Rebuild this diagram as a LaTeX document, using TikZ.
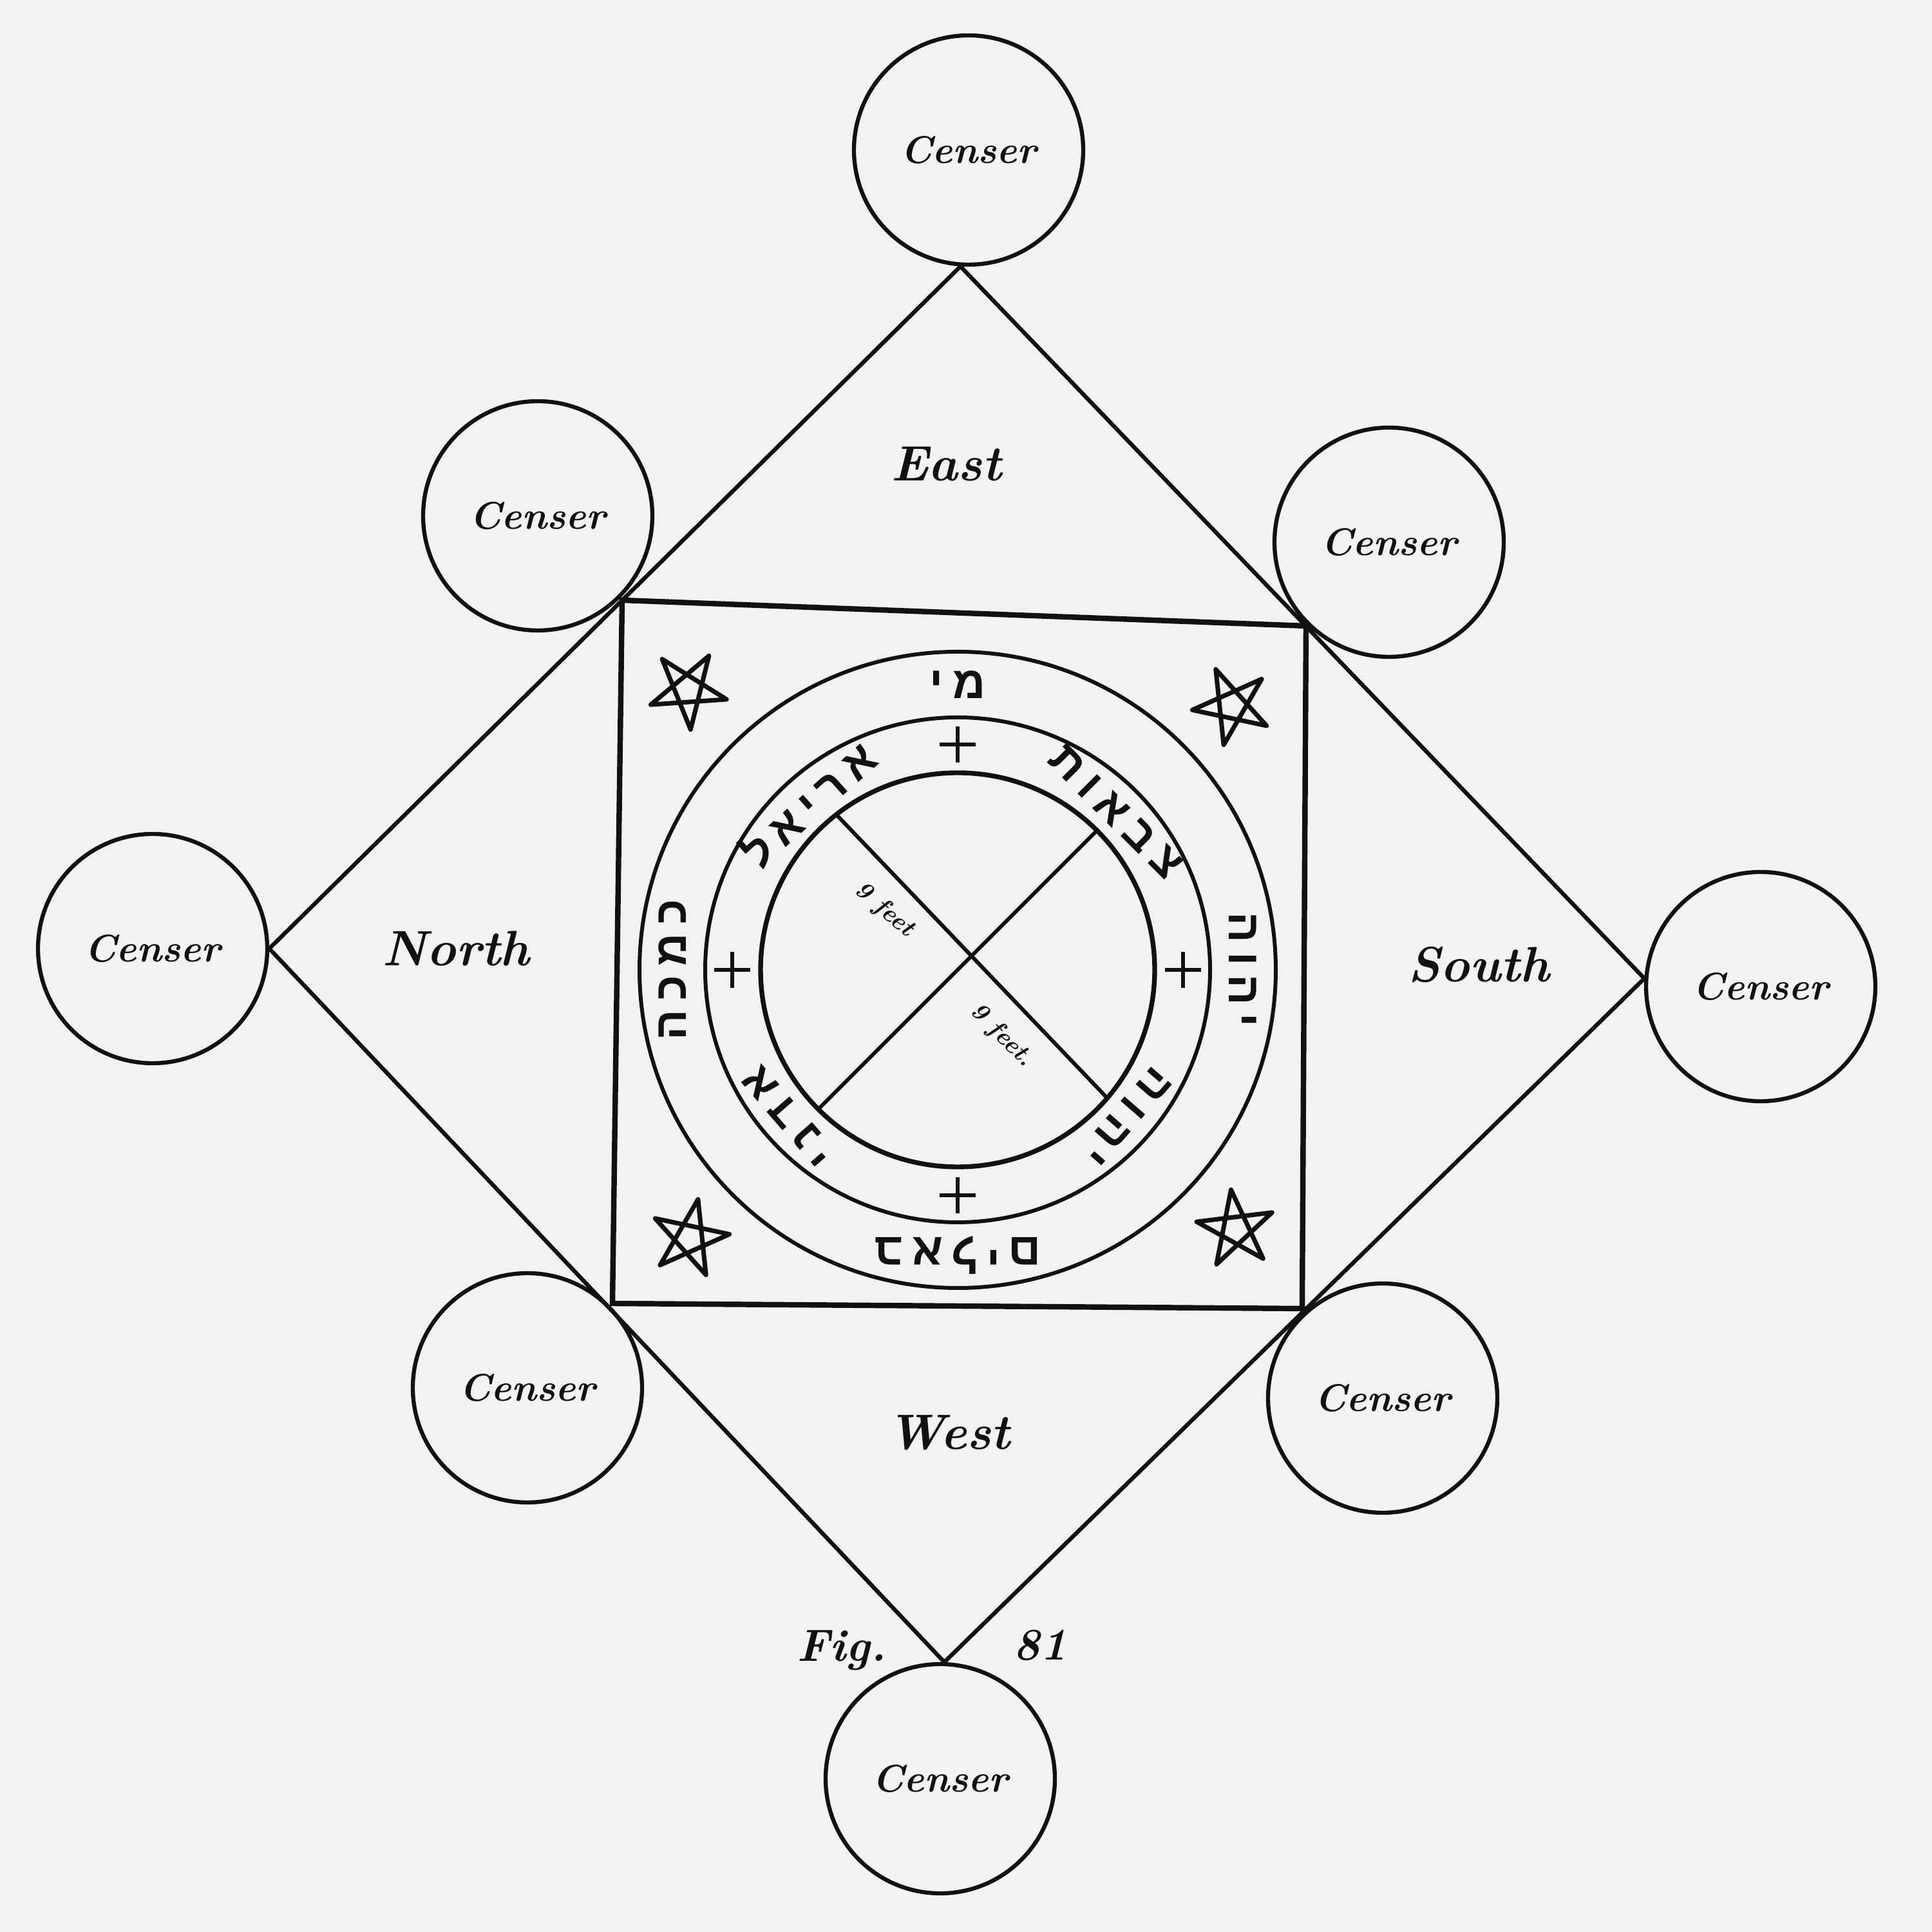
\documentclass[tikz,border=0pt]{standalone}
\usepackage{fontspec}
\usepackage{tikz}
\usetikzlibrary{calc,positioning}
\newfontfamily\hebfont[Script=Hebrew,LetterSpace=20]{Liberation Sans}
\TeXXeTstate=1
\definecolor{paper}{HTML}{F2F2F2}
\definecolor{ink}{HTML}{111111}

\begin{document}
\begin{tikzpicture}[
  censer/.style={circle,draw=ink,line width=1.8pt,minimum size=3.56cm,inner sep=0pt,text=ink,font=\fontsize{17}{20}\selectfont\bfseries\itshape},
  edge/.style={draw=ink,line width=1.8pt},
  frame/.style={draw=ink,line width=2.4pt,line join=miter},
  ring/.style={draw=ink,line width=1.7pt},
  pent/.style={draw=ink,line width=2pt,line join=round},
  quarter/.style={font=\fontsize{22}{26}\selectfont\bfseries\itshape,text=ink},
  heb/.style={font=\fontsize{20}{24}\hebfont\bfseries,text=ink,inner sep=0pt},
  feet/.style={font=\fontsize{11}{13}\selectfont\bfseries\itshape,text=ink,inner sep=0pt},
]
\fill[paper] (0,0) rectangle (30,30);

% CENSERS
\node[censer] (cN) at (15.04,27.67) {Censer};
\node[censer] (cNW) at (8.35,21.99) {Censer};
\node[censer] (cNE) at (21.57,21.58) {Censer};
\node[censer] (cW) at (2.37,15.27) {Censer};
\node[censer] (cE) at (27.34,14.68) {Censer};
\node[censer] (cSW) at (8.19,8.45) {Censer};
\node[censer] (cSE) at (21.47,8.29) {Censer};
\node[censer] (cS) at (14.60,2.38) {Censer};

% DIAMOND + SQUARE
\draw[edge] (cW.east) -- (cN.266) -- (cE.176) -- (cS.88) -- cycle;
\coordinate (sqNW) at (9.66,20.68);
\coordinate (sqNE) at (20.28,20.28);
\coordinate (sqSE) at (20.22,9.68);
\coordinate (sqSW) at (9.51,9.76);
\draw[frame] (sqNW) -- (sqNE) -- (sqSE) -- (sqSW) -- cycle;

% CIRCLES
\coordinate (ctr) at (14.87,14.94);
\draw[ring] (ctr) circle (4.94cm);
\draw[ring] (ctr) circle (3.92cm);
\draw[ring,line width=2.1pt] (ctr) circle (3.06cm);
\draw[ring] ($(ctr)+(128:3.06)$) -- ($(ctr)+(-40.6:3.06)$);
\draw[ring] ($(ctr)+(45:3.06)$) -- ($(ctr)+(225:3.06)$);
\foreach \a in {0,90,180,270}
  \draw[ring] ($(ctr)+(\a:3.5)+(-0.28,0)$) -- ++(0.56,0)
              ($(ctr)+(\a:3.5)+(0,-0.28)$) -- ++(0,0.56);

% PENTAGRAMS
\foreach \x/\y/\r in {10.68/19.29/184, 19.13/19.04/24, 10.71/10.77/-12, 19.19/10.91/7}
  \draw[pent,shift={(\x,\y)},rotate=\r] (90:0.62) -- (234:0.62) -- (18:0.62) -- (162:0.62) -- (306:0.62) -- cycle;

% HEBREW, OUTER BAND
\node[heb] (hN) at ($(ctr)+(90:4.43)$) {\beginR מי\endR};
\node[heb,rotate=90] (hW) at ($(ctr)+(180:4.43)$) {\beginR כמכה\endR};
\node[heb,rotate=180] (hS) at ($(ctr)+(270:4.43)$) {\beginR באלים\endR};
\node[heb,rotate=-90] (hE) at ($(ctr)+(0:4.43)$) {\beginR יהוה\endR};

% HEBREW, INNER BAND
\node[heb,rotate=42] (iNW) at ($(ctr)+(132:3.47)$) {\beginR אריאל\endR};
\node[heb,rotate=131] (iSW) at ($(ctr)+(221:3.47)$) {\beginR אדני\endR};
\node[heb,rotate=-131] (iSE) at ($(ctr)+(-41:3.47)$) {\beginR יהוה\endR};
\node[heb,rotate=-45] (iNE) at ($(ctr)+(45:3.47)$) {\beginR צבאות\endR};

% LABELS
\node[feet,rotate=-41] (ft1) at (13.73,15.87) {9 feet};
\node[feet,rotate=-45] (ft2) at (15.55,13.92) {9 feet.};
\node[quarter] (east) at (14.69,22.79) {East};
\node[quarter] (north) at (7.08,15.27) {North};
\node[quarter] (south) at (22.96,15.02) {South};
\node[quarter] (west) at (14.73,7.75) {West};
\node[quarter,font=\fontsize{20}{24}\selectfont\bfseries\itshape] (fig) at (13.07,4.37) {Fig.};
\node[quarter,font=\fontsize{20}{24}\selectfont\bfseries\itshape] (num) at (16.15,4.45) {81};
\end{tikzpicture}
\end{document}
